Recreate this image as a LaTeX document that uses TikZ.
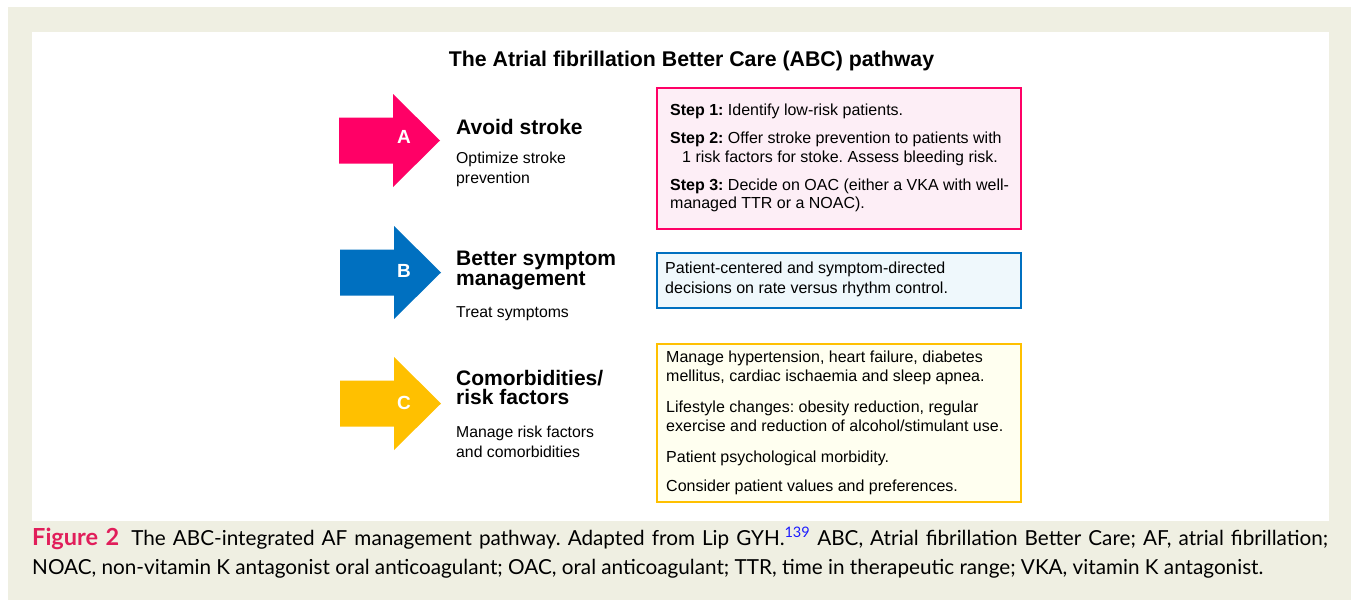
\documentclass[tikz,border=0pt]{standalone}
\usepackage{fontspec}
\setmainfont{Liberation Sans}
\newfontfamily\capfont{Lato}
\definecolor{beige}{HTML}{EFEFE2}
\definecolor{apink}{HTML}{FF0066}
\definecolor{bblue}{HTML}{0070C0}
\definecolor{cyell}{HTML}{FFC000}
\definecolor{pinkfill}{HTML}{FDEEF6}
\definecolor{bluefill}{HTML}{EFF8FC}
\definecolor{yellfill}{HTML}{FFFFF0}
\definecolor{figred}{HTML}{E11E5A}
\definecolor{refblue}{HTML}{1A1AFF}
\frenchspacing
\newlength\capwa
\newlength\capwb
\newcommand\capla{{\fontsize{23.5}{24}\selectfont\bfseries\color{figred}Figure 2}\hspace{12pt}The ABC-integrated AF management pathway. Adapted from Lip GYH.\textsuperscript{\color{refblue}139} ABC, Atrial fibrillation Better Care; AF, atrial fibrillation;}
\newcommand\caplb{NOAC, non-vitamin K antagonist oral anticoagulant; OAC, oral anticoagulant; TTR, time in therapeutic range; VKA, vitamin K antagonist.}
\AtBeginDocument{%
  \frenchspacing
  \settowidth\capwa{\capfont\fontsize{20}{24}\selectfont\capla}%
  \settowidth\capwb{\capfont\fontsize{20}{24}\selectfont\caplb}%
  \global\capwa=\capwa \global\capwb=\capwb
  \pgfmathsetmacro\capfstmp{20*min(1294/\capwa,1231/\capwb)}%
  \global\let\capfs\capfstmp}
\begin{document}
\begin{tikzpicture}[x=1pt,y=-1pt,
  head/.style={anchor=base west, inner sep=0pt, font=\fontsize{21}{24}\selectfont\bfseries},
  sub/.style={anchor=base west, inner sep=0pt, font=\fontsize{15.8}{19}\selectfont},
  btxt/.style={anchor=base west, inner sep=0pt, font=\fontsize{16}{19}\selectfont},
  letter/.style={anchor=base, inner sep=0pt, text=white, font=\fontsize{19}{22}\selectfont\bfseries},
  panel/.style={line width=1.3pt, minimum width=364pt, inner sep=0pt}
]
\frenchspacing
\useasboundingbox (0,0) rectangle (1351,600);
\fill[white] (0,0) rectangle (1351,600);
\fill[beige] (8,7) rectangle (1351,600);
\fill[white] (32,32) rectangle (1329,521);

% title
\node[anchor=base, inner sep=0pt, font=\fontsize{21.3}{24}\selectfont\bfseries] (title) at (691.5,66) {The Atrial fibrillation Better Care (ABC) pathway};

% arrows
\begin{scope}[shift={(0,140.5)}]
\fill[apink] (339,-23) -- (393,-23) -- (393,-46.5) -- (440,0) -- (393,46.5) -- (393,23) -- (339,23) -- cycle;
\end{scope}
\begin{scope}[shift={(0,272.5)}]
\fill[bblue] (340,-23) -- (394,-23) -- (394,-46.5) -- (441,0) -- (394,46.5) -- (394,23) -- (340,23) -- cycle;
\end{scope}
\begin{scope}[shift={(0,403.5)}]
\fill[cyell] (340,-23) -- (394,-23) -- (394,-46.5) -- (441,0) -- (394,46.5) -- (394,23) -- (340,23) -- cycle;
\end{scope}
\node[letter] (la) at (404,143) {A};
\node[letter] (lb) at (404,277) {B};
\node[letter] (lc) at (404,409) {C};

% headings
\node[head] (ha) at (456,134) {Avoid stroke};
\node[sub] (sa1) at (456,163) {Optimize stroke};
\node[sub] (sa2) at (456,183) {prevention};

\node[head] (hb1) at (456,265) {Better symptom};
\node[head] (hb2) at (456,285) {management};
\node[sub] (sb1) at (456,317) {Treat symptoms};

\node[head] (hc1) at (456,385) {Comorbidities/};
\node[head] (hc2) at (456,404) {risk factors};
\node[sub] (sc1) at (456,437) {Manage risk factors};
\node[sub] (sc2) at (456,457) {and comorbidities};

% boxes
\node[panel, draw=apink, fill=pinkfill, minimum height=141pt] (boxa) at (839,158.5) {};
\node[panel, draw=bblue, fill=bluefill, minimum height=55pt] (boxb) at (839,280.5) {};
\node[panel, draw=cyell, fill=yellfill, minimum height=158pt] (boxc) at (839,423) {};

\node[btxt] (a1) at (670,115) {\textbf{Step 1:} Identify low-risk patients.};
\node[btxt] (a2) at (670,143) {\textbf{Step 2:} Offer stroke prevention to patients with};
\node[btxt] (a3) at (682,162) {1 risk factors for stoke. Assess bleeding risk.};
\node[btxt] (a4) at (670,190) {\textbf{Step 3:} Decide on OAC (either a VKA with well-};
\node[btxt] (a5) at (670,208) {managed TTR or a NOAC).};

\node[btxt] (b1) at (665,273) {Patient-centered and symptom-directed};
\node[btxt] (b2) at (665,293) {decisions on rate versus rhythm control.};

\node[btxt] (c1) at (666,362) {Manage hypertension, heart failure, diabetes};
\node[btxt] (c2) at (666,381) {mellitus, cardiac ischaemia and sleep apnea.};
\node[btxt] (c3) at (666,412) {Lifestyle changes: obesity reduction, regular};
\node[btxt] (c4) at (666,431) {exercise and reduction of alcohol/stimulant use.};
\node[btxt] (c5) at (666,462) {Patient psychological morbidity.};
\node[btxt] (c6) at (666,491) {Consider patient values and preferences.};

% caption
\node[anchor=base west, inner sep=0pt, font=\capfont\fontsize{\capfs}{24}\selectfont] (cap1) at (32,545) {\makebox[1296pt][s]{\capla}};
\node[anchor=base west, inner sep=0pt, font=\capfont\fontsize{\capfs}{24}\selectfont] (cap2) at (32,574) {\caplb};
\end{tikzpicture}
\end{document}
